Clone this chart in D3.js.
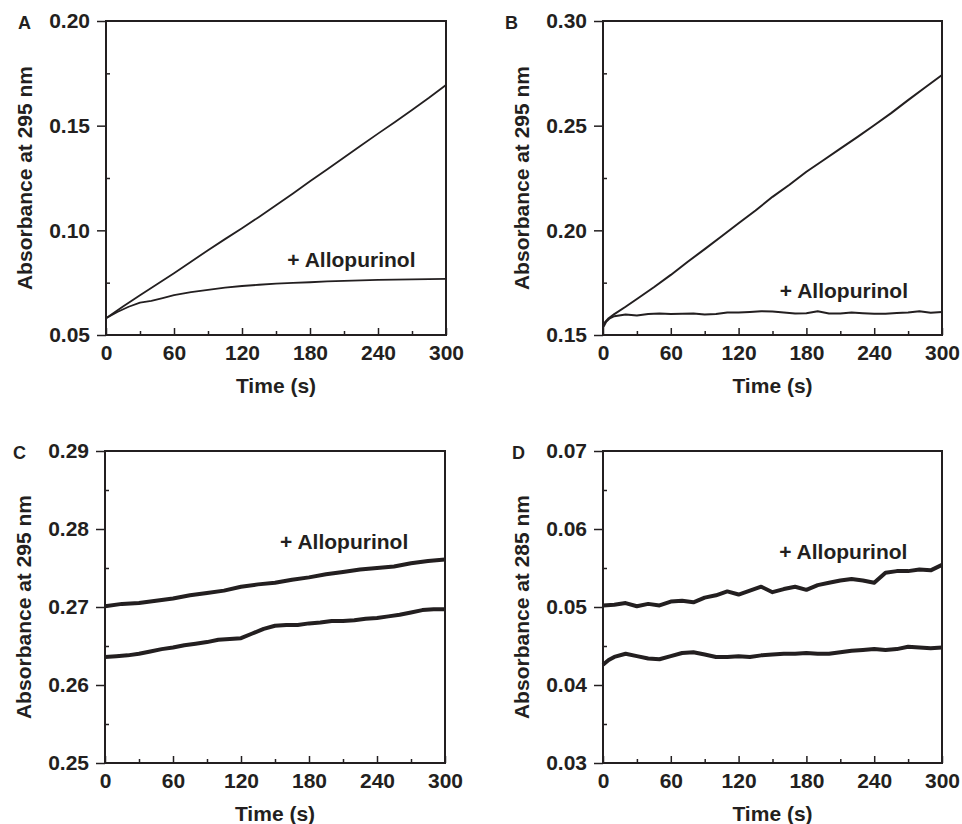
<!DOCTYPE html>
<html>
<head>
<meta charset="utf-8">
<script src="https://cdn.jsdelivr.net/npm/d3@7"></script>
<style>
  body { margin: 0; background: #fff; }
  svg { display: block; font-family: "Liberation Sans", Arial, sans-serif; font-weight: bold; }
</style>
</head>
<body>
<script>
// sample times (s) and absorbance readings
const tA1 = [0, 15, 30, 45, 60, 75, 90, 105, 120, 135, 150, 165, 180, 195, 210, 225, 240, 255, 270, 285, 300];
const aNoInhib = [0.0580, 0.0636, 0.0690, 0.0742, 0.0795, 0.0850, 0.0905, 0.0958, 0.1010, 0.1064, 0.1120, 0.1176, 0.1234, 0.1291, 0.1348, 0.1405, 0.1462, 0.1518, 0.1575, 0.1633, 0.1694];
const tA2 = [0, 10, 20, 30, 40, 50, 60, 75, 90, 105, 120, 135, 150, 165, 180, 195, 210, 225, 240, 255, 270, 285, 300];
const aAllo = [0.0580, 0.0610, 0.0635, 0.0655, 0.0663, 0.0676, 0.0690, 0.0705, 0.0716, 0.0726, 0.0734, 0.0740, 0.0745, 0.0749, 0.0752, 0.0756, 0.0759, 0.0761, 0.0763, 0.0765, 0.0766, 0.0767, 0.0768];

const tB1 = [0, 5, 10, 20, 30, 45, 60, 75, 90, 105, 120, 135, 150, 165, 180, 195, 210, 225, 240, 255, 270, 285, 300];
const bNoInhib = [0.1550, 0.1580, 0.1600, 0.1635, 0.1672, 0.1728, 0.1787, 0.1850, 0.1910, 0.1972, 0.2034, 0.2095, 0.2160, 0.2218, 0.2280, 0.2335, 0.2390, 0.2445, 0.2502, 0.2560, 0.2622, 0.2682, 0.2742];
const tB2 = [0, 3, 6, 10, 20, 30, 40, 50, 60, 70, 80, 90, 100, 110, 120, 130, 140, 150, 160, 170, 180, 190, 200, 210, 220, 230, 240, 250, 260, 270, 280, 290, 300];
const bAllo = [0.1535, 0.1565, 0.1580, 0.1590, 0.1598, 0.1593, 0.1600, 0.1603, 0.1600, 0.1602, 0.1603, 0.1598, 0.1600, 0.1608, 0.1607, 0.1610, 0.1614, 0.1612, 0.1608, 0.1603, 0.1604, 0.1613, 0.1603, 0.1603, 0.1608, 0.1604, 0.1601, 0.1602, 0.1605, 0.1608, 0.1613, 0.1606, 0.1610];

const tC1 = [0, 15, 30, 45, 60, 75, 90, 105, 120, 135, 150, 165, 180, 195, 210, 225, 240, 255, 270, 285, 300];
const cAllo = [0.2701, 0.2704, 0.2705, 0.2708, 0.2711, 0.2715, 0.2718, 0.2721, 0.2726, 0.2729, 0.2731, 0.2735, 0.2738, 0.2742, 0.2745, 0.2748, 0.2750, 0.2752, 0.2756, 0.2759, 0.2761];
const t10 = [0, 10, 20, 30, 40, 50, 60, 70, 80, 90, 100, 110, 120, 130, 140, 150, 160, 170, 180, 190, 200, 210, 220, 230, 240, 250, 260, 270, 280, 290, 300];
const cNoInhib = [0.2636, 0.2637, 0.2638, 0.2640, 0.2643, 0.2646, 0.2648, 0.2651, 0.2653, 0.2655, 0.2658, 0.2659, 0.2660, 0.2666, 0.2672, 0.2676, 0.2677, 0.2677, 0.2679, 0.2680, 0.2682, 0.2682, 0.2683, 0.2685, 0.2686, 0.2688, 0.2690, 0.2693, 0.2696, 0.2697, 0.2697];

const dAllo = [0.0502, 0.0503, 0.0505, 0.0501, 0.0504, 0.0502, 0.0507, 0.0508, 0.0506, 0.0512, 0.0515, 0.0520, 0.0516, 0.0521, 0.0526, 0.0519, 0.0523, 0.0526, 0.0522, 0.0528, 0.0531, 0.0534, 0.0536, 0.0534, 0.0531, 0.0544, 0.0546, 0.0546, 0.0548, 0.0547, 0.0554];
const tD2 = [0, 5, 10, 20, 30, 40, 50, 60, 70, 80, 90, 100, 110, 120, 130, 140, 150, 160, 170, 180, 190, 200, 210, 220, 230, 240, 250, 260, 270, 280, 290, 300];
const dNoInhib = [0.0426, 0.0432, 0.0436, 0.0440, 0.0437, 0.0434, 0.0433, 0.0437, 0.0441, 0.0442, 0.0439, 0.0436, 0.0436, 0.0437, 0.0436, 0.0438, 0.0439, 0.0440, 0.0440, 0.0441, 0.0440, 0.0440, 0.0442, 0.0444, 0.0445, 0.0446, 0.0445, 0.0446, 0.0449, 0.0448, 0.0447, 0.0448];

// axis ticks
const xMajor = [0, 60, 120, 180, 240, 300];
const xMinor = [30, 90, 150, 210, 270];
const yTicksA = [0.05, 0.10, 0.15, 0.20];
const yTicksB = [0.15, 0.20, 0.25, 0.30];
const yTicksC = [0.25, 0.26, 0.27, 0.28, 0.29];
const yTicksD = [0.03, 0.04, 0.05, 0.06, 0.07];

const noteText = "+ Allopurinol";
const ink = "#231f20";

const zip = (t, v) => t.map((d, i) => [d, v[i]]);

const panels = [
  { letter: "A", left: 106, top: 21, w: 340, h: 314, letterX: 18, yTicks: yTicksA, yLabel: "Absorbance at 295 nm",
    series: [zip(tA1, aNoInhib), zip(tA2, aAllo)], note: [160, 0.0825], lw: 1.8 },
  { letter: "B", left: 603, top: 21, w: 339, h: 314, letterX: 505, yTicks: yTicksB, yLabel: "Absorbance at 295 nm",
    series: [zip(tB1, bNoInhib), zip(tB2, bAllo)], note: [156.5, 0.1677], lw: 2 },
  { letter: "C", left: 105, top: 451, w: 340, h: 312, letterX: 13, yTicks: yTicksC, yLabel: "Absorbance at 295 nm",
    series: [zip(tC1, cAllo), zip(t10, cNoInhib)], note: [154.5, 0.2774], lw: 4 },
  { letter: "D", left: 603, top: 451, w: 339, h: 312, letterX: 512, yTicks: yTicksD, yLabel: "Absorbance at 285 nm",
    series: [zip(t10, dAllo), zip(tD2, dNoInhib)], note: [156, 0.0561], lw: 4 }
];

const svg = d3.select("body").append("svg")
  .attr("width", 962)
  .attr("height", 824)
  .attr("viewBox", [0, 0, 962, 824]);

panels.forEach(p => {
  const x = d3.scaleLinear().domain([0, 300]).range([0, p.w]);
  const y = d3.scaleLinear().domain(d3.extent(p.yTicks)).range([p.h, 0]);
  const yMinor = d3.pairs(p.yTicks).map(([a, b]) => (a + b) / 2);

  const g = svg.append("g").attr("transform", `translate(${p.left},${p.top})`);

  // y axis: labelled majors outside, minors inside
  g.append("g")
    .call(d3.axisLeft(y).tickValues(p.yTicks).tickSize(9).tickPadding(7).tickFormat(d3.format(".2f")))
    .call(a => a.select(".domain").remove());
  g.append("g")
    .call(d3.axisLeft(y).tickValues(yMinor).tickSize(-4).tickFormat(""))
    .call(a => a.select(".domain").remove());

  // x axis: ticks point inward
  g.append("g")
    .attr("transform", `translate(0,${p.h})`)
    .call(d3.axisBottom(x).tickValues(xMajor).tickSizeInner(-7).tickSizeOuter(0).tickPadding(10))
    .call(a => a.select(".domain").remove());
  g.append("g")
    .attr("transform", `translate(0,${p.h})`)
    .call(d3.axisBottom(x).tickValues(xMinor).tickSizeInner(-4).tickSizeOuter(0).tickFormat(""))
    .call(a => a.select(".domain").remove());

  g.selectAll(".tick line").attr("stroke", ink).attr("stroke-width", 1.5);
  g.selectAll(".tick text")
    .attr("fill", ink)
    .attr("font-family", "Liberation Sans, Arial, sans-serif")
    .attr("font-weight", "bold")
    .attr("font-size", 21);

  // traces
  const line = d3.line().x(d => x(d[0])).y(d => y(d[1]));
  g.append("g")
    .attr("fill", "none")
    .attr("stroke", ink)
    .attr("stroke-width", p.lw)
    .attr("stroke-linejoin", "round")
    .selectAll("path")
    .data(p.series)
    .join("path")
    .attr("d", line);

  // frame
  g.append("rect")
    .attr("width", p.w)
    .attr("height", p.h)
    .attr("fill", "none")
    .attr("stroke", ink)
    .attr("stroke-width", 2);

  g.append("text")
    .attr("x", x(p.note[0]))
    .attr("y", y(p.note[1]))
    .attr("fill", ink)
    .attr("font-size", 21)
    .text(noteText);

  g.append("text")
    .attr("x", p.w / 2)
    .attr("y", p.h + 58)
    .attr("text-anchor", "middle")
    .attr("fill", ink)
    .attr("font-size", 21)
    .text("Time (s)");

  g.append("text")
    .attr("transform", `translate(-74,${p.h / 2}) rotate(-90)`)
    .attr("text-anchor", "middle")
    .attr("fill", ink)
    .attr("font-size", 21)
    .text(p.yLabel);

  svg.append("text")
    .attr("x", p.letterX)
    .attr("y", p.top + 8)
    .attr("fill", ink)
    .attr("font-size", 18)
    .text(p.letter);
});
</script>
</body>
</html>
